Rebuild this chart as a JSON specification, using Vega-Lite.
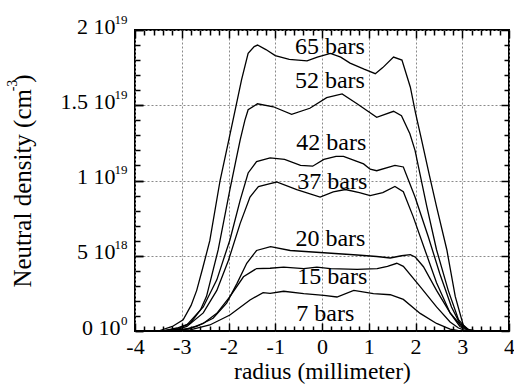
{
  "$schema": "https://vega.github.io/schema/vega-lite/v6.json",
  "width": 374,
  "height": 301,
  "autosize": {"type": "none"},
  "padding": {"left": 135, "top": 30, "right": 5, "bottom": 53},
  "background": "white",
  "config": {
    "view": {"stroke": "black", "strokeWidth": 2},
    "axis": {
      "domain": false,
      "labelFont": "Liberation Serif",
      "titleFont": "Liberation Serif",
      "labelColor": "black",
      "titleColor": "black",
      "tickColor": "black",
      "labelFontSize": 22,
      "titleFontSize": 23.5,
      "titleFontWeight": "normal",
      "tickWidth": 1.5,
      "labelFlush": false,
      "gridColor": "#8a8a8a",
      "gridDash": [2, 2],
      "gridWidth": 1,
      "gridOpacity": 1
    }
  },
  "datasets": {
    "curves": [
      {"p": "65 bars", "r": -3.5, "n": 0},
      {"p": "65 bars", "r": -3.2, "n": 0.3e18},
      {"p": "65 bars", "r": -2.97, "n": 0.75e18},
      {"p": "65 bars", "r": -2.8, "n": 1.7e18},
      {"p": "65 bars", "r": -2.68, "n": 2.7e18},
      {"p": "65 bars", "r": -2.55, "n": 4.2e18},
      {"p": "65 bars", "r": -2.4, "n": 6.0e18},
      {"p": "65 bars", "r": -2.18, "n": 10.0e18},
      {"p": "65 bars", "r": -2.0, "n": 12.6e18},
      {"p": "65 bars", "r": -1.85, "n": 14.8e18},
      {"p": "65 bars", "r": -1.72, "n": 16.7e18},
      {"p": "65 bars", "r": -1.58, "n": 18.45e18},
      {"p": "65 bars", "r": -1.45, "n": 18.9e18},
      {"p": "65 bars", "r": -1.38, "n": 19.0e18},
      {"p": "65 bars", "r": -1.2, "n": 18.7e18},
      {"p": "65 bars", "r": -1.0, "n": 18.3e18},
      {"p": "65 bars", "r": -0.7, "n": 18.05e18},
      {"p": "65 bars", "r": -0.32, "n": 17.95e18},
      {"p": "65 bars", "r": -0.1, "n": 18.2e18},
      {"p": "65 bars", "r": 0.18, "n": 18.45e18},
      {"p": "65 bars", "r": 0.4, "n": 18.2e18},
      {"p": "65 bars", "r": 0.6, "n": 17.8e18},
      {"p": "65 bars", "r": 0.9, "n": 17.4e18},
      {"p": "65 bars", "r": 1.14, "n": 17.1e18},
      {"p": "65 bars", "r": 1.3, "n": 17.5e18},
      {"p": "65 bars", "r": 1.53, "n": 18.2e18},
      {"p": "65 bars", "r": 1.71, "n": 18.0e18},
      {"p": "65 bars", "r": 1.89, "n": 16.2e18},
      {"p": "65 bars", "r": 2.0, "n": 14.5e18},
      {"p": "65 bars", "r": 2.13, "n": 12.7e18},
      {"p": "65 bars", "r": 2.3, "n": 10.3e18},
      {"p": "65 bars", "r": 2.45, "n": 8.26e18},
      {"p": "65 bars", "r": 2.67, "n": 5.4e18},
      {"p": "65 bars", "r": 2.85, "n": 2.3e18},
      {"p": "65 bars", "r": 3.02, "n": 0.4e18},
      {"p": "65 bars", "r": 3.15, "n": 0.05e18},
      {"p": "65 bars", "r": 3.3, "n": 0},

      {"p": "52 bars", "r": -3.4, "n": 0},
      {"p": "52 bars", "r": -3.1, "n": 0.2e18},
      {"p": "52 bars", "r": -2.82, "n": 0.5e18},
      {"p": "52 bars", "r": -2.6, "n": 1.4e18},
      {"p": "52 bars", "r": -2.47, "n": 2.3e18},
      {"p": "52 bars", "r": -2.22, "n": 5.4e18},
      {"p": "52 bars", "r": -1.97, "n": 9.4e18},
      {"p": "52 bars", "r": -1.85, "n": 11.2e18},
      {"p": "52 bars", "r": -1.75, "n": 12.7e18},
      {"p": "52 bars", "r": -1.65, "n": 14.0e18},
      {"p": "52 bars", "r": -1.58, "n": 14.7e18},
      {"p": "52 bars", "r": -1.38, "n": 15.1e18},
      {"p": "52 bars", "r": -1.04, "n": 14.9e18},
      {"p": "52 bars", "r": -0.65, "n": 14.4e18},
      {"p": "52 bars", "r": -0.26, "n": 14.8e18},
      {"p": "52 bars", "r": 0.1, "n": 15.5e18},
      {"p": "52 bars", "r": 0.43, "n": 15.75e18},
      {"p": "52 bars", "r": 0.75, "n": 15.1e18},
      {"p": "52 bars", "r": 1.17, "n": 14.2e18},
      {"p": "52 bars", "r": 1.53, "n": 14.6e18},
      {"p": "52 bars", "r": 1.7, "n": 14.3e18},
      {"p": "52 bars", "r": 1.88, "n": 13.1e18},
      {"p": "52 bars", "r": 1.99, "n": 12.0e18},
      {"p": "52 bars", "r": 2.24, "n": 8.3e18},
      {"p": "52 bars", "r": 2.45, "n": 5.4e18},
      {"p": "52 bars", "r": 2.7, "n": 2.7e18},
      {"p": "52 bars", "r": 2.92, "n": 0.75e18},
      {"p": "52 bars", "r": 3.1, "n": 0.1e18},
      {"p": "52 bars", "r": 3.3, "n": 0},

      {"p": "42 bars", "r": -3.4, "n": 0},
      {"p": "42 bars", "r": -3.1, "n": 0.15e18},
      {"p": "42 bars", "r": -2.89, "n": 0.4e18},
      {"p": "42 bars", "r": -2.54, "n": 1.6e18},
      {"p": "42 bars", "r": -2.25, "n": 3.4e18},
      {"p": "42 bars", "r": -1.97, "n": 6.05e18},
      {"p": "42 bars", "r": -1.75, "n": 8.7e18},
      {"p": "42 bars", "r": -1.58, "n": 10.5e18},
      {"p": "42 bars", "r": -1.4, "n": 11.25e18},
      {"p": "42 bars", "r": -1.11, "n": 11.5e18},
      {"p": "42 bars", "r": -0.8, "n": 11.4e18},
      {"p": "42 bars", "r": -0.46, "n": 11.0e18},
      {"p": "42 bars", "r": -0.2, "n": 10.95e18},
      {"p": "42 bars", "r": 0.04, "n": 11.4e18},
      {"p": "42 bars", "r": 0.3, "n": 11.6e18},
      {"p": "42 bars", "r": 0.46, "n": 11.6e18},
      {"p": "42 bars", "r": 0.89, "n": 11.1e18},
      {"p": "42 bars", "r": 1.03, "n": 10.75e18},
      {"p": "42 bars", "r": 1.17, "n": 10.65e18},
      {"p": "42 bars", "r": 1.56, "n": 11.0e18},
      {"p": "42 bars", "r": 1.74, "n": 10.9e18},
      {"p": "42 bars", "r": 1.99, "n": 8.9e18},
      {"p": "42 bars", "r": 2.27, "n": 6.3e18},
      {"p": "42 bars", "r": 2.52, "n": 3.8e18},
      {"p": "42 bars", "r": 2.77, "n": 1.6e18},
      {"p": "42 bars", "r": 2.95, "n": 0.5e18},
      {"p": "42 bars", "r": 3.15, "n": 0.05e18},
      {"p": "42 bars", "r": 3.3, "n": 0},

      {"p": "37 bars", "r": -3.4, "n": 0},
      {"p": "37 bars", "r": -3.1, "n": 0.1e18},
      {"p": "37 bars", "r": -2.89, "n": 0.3e18},
      {"p": "37 bars", "r": -2.54, "n": 1.2e18},
      {"p": "37 bars", "r": -2.25, "n": 2.7e18},
      {"p": "37 bars", "r": -2.0, "n": 4.7e18},
      {"p": "37 bars", "r": -1.75, "n": 7.15e18},
      {"p": "37 bars", "r": -1.54, "n": 8.9e18},
      {"p": "37 bars", "r": -1.36, "n": 9.6e18},
      {"p": "37 bars", "r": -1.11, "n": 9.8e18},
      {"p": "37 bars", "r": -0.97, "n": 9.9e18},
      {"p": "37 bars", "r": -0.54, "n": 9.4e18},
      {"p": "37 bars", "r": -0.04, "n": 8.9e18},
      {"p": "37 bars", "r": 0.24, "n": 9.25e18},
      {"p": "37 bars", "r": 0.5, "n": 9.4e18},
      {"p": "37 bars", "r": 0.8, "n": 9.2e18},
      {"p": "37 bars", "r": 1.03, "n": 9.0e18},
      {"p": "37 bars", "r": 1.3, "n": 9.2e18},
      {"p": "37 bars", "r": 1.56, "n": 9.6e18},
      {"p": "37 bars", "r": 1.74, "n": 9.25e18},
      {"p": "37 bars", "r": 1.95, "n": 7.6e18},
      {"p": "37 bars", "r": 2.2, "n": 5.4e18},
      {"p": "37 bars", "r": 2.45, "n": 3.2e18},
      {"p": "37 bars", "r": 2.74, "n": 1.2e18},
      {"p": "37 bars", "r": 2.99, "n": 0.3e18},
      {"p": "37 bars", "r": 3.2, "n": 0},

      {"p": "20 bars", "r": -3.3, "n": 0},
      {"p": "20 bars", "r": -2.95, "n": 0.1e18},
      {"p": "20 bars", "r": -2.68, "n": 0.3e18},
      {"p": "20 bars", "r": -2.33, "n": 0.85e18},
      {"p": "20 bars", "r": -2.04, "n": 1.85e18},
      {"p": "20 bars", "r": -1.82, "n": 3.15e18},
      {"p": "20 bars", "r": -1.61, "n": 4.5e18},
      {"p": "20 bars", "r": -1.4, "n": 5.35e18},
      {"p": "20 bars", "r": -1.1, "n": 5.6e18},
      {"p": "20 bars", "r": -0.68, "n": 5.35e18},
      {"p": "20 bars", "r": 0.04, "n": 5.2e18},
      {"p": "20 bars", "r": 0.75, "n": 5.05e18},
      {"p": "20 bars", "r": 1.17, "n": 4.95e18},
      {"p": "20 bars", "r": 1.46, "n": 4.85e18},
      {"p": "20 bars", "r": 1.7, "n": 5.0e18},
      {"p": "20 bars", "r": 1.89, "n": 5.07e18},
      {"p": "20 bars", "r": 2.0, "n": 4.9e18},
      {"p": "20 bars", "r": 2.17, "n": 4.27e18},
      {"p": "20 bars", "r": 2.45, "n": 2.7e18},
      {"p": "20 bars", "r": 2.74, "n": 1.2e18},
      {"p": "20 bars", "r": 2.95, "n": 0.3e18},
      {"p": "20 bars", "r": 3.15, "n": 0},

      {"p": "15 bars", "r": -3.3, "n": 0},
      {"p": "15 bars", "r": -2.85, "n": 0.15e18},
      {"p": "15 bars", "r": -2.54, "n": 0.5e18},
      {"p": "15 bars", "r": -2.25, "n": 1.17e18},
      {"p": "15 bars", "r": -1.97, "n": 2.28e18},
      {"p": "15 bars", "r": -1.68, "n": 3.6e18},
      {"p": "15 bars", "r": -1.4, "n": 4.15e18},
      {"p": "15 bars", "r": -1.11, "n": 4.17e18},
      {"p": "15 bars", "r": -0.82, "n": 4.25e18},
      {"p": "15 bars", "r": -0.39, "n": 4.14e18},
      {"p": "15 bars", "r": -0.11, "n": 4.25e18},
      {"p": "15 bars", "r": 0.18, "n": 4.14e18},
      {"p": "15 bars", "r": 0.75, "n": 4.1e18},
      {"p": "15 bars", "r": 1.18, "n": 4.14e18},
      {"p": "15 bars", "r": 1.4, "n": 4.3e18},
      {"p": "15 bars", "r": 1.6, "n": 4.5e18},
      {"p": "15 bars", "r": 1.74, "n": 4.3e18},
      {"p": "15 bars", "r": 2.1, "n": 2.95e18},
      {"p": "15 bars", "r": 2.45, "n": 1.6e18},
      {"p": "15 bars", "r": 2.74, "n": 0.6e18},
      {"p": "15 bars", "r": 2.92, "n": 0.2e18},
      {"p": "15 bars", "r": 3.1, "n": 0},

      {"p": "7 bars", "r": -3.2, "n": 0},
      {"p": "7 bars", "r": -2.82, "n": 0.07e18},
      {"p": "7 bars", "r": -2.4, "n": 0.4e18},
      {"p": "7 bars", "r": -1.97, "n": 1.06e18},
      {"p": "7 bars", "r": -1.54, "n": 2.06e18},
      {"p": "7 bars", "r": -1.26, "n": 2.55e18},
      {"p": "7 bars", "r": -1.11, "n": 2.5e18},
      {"p": "7 bars", "r": -0.82, "n": 2.64e18},
      {"p": "7 bars", "r": -0.39, "n": 2.48e18},
      {"p": "7 bars", "r": 0.04, "n": 2.37e18},
      {"p": "7 bars", "r": 0.32, "n": 2.26e18},
      {"p": "7 bars", "r": 0.68, "n": 2.7e18},
      {"p": "7 bars", "r": 1.1, "n": 2.48e18},
      {"p": "7 bars", "r": 1.46, "n": 2.41e18},
      {"p": "7 bars", "r": 1.74, "n": 2.1e18},
      {"p": "7 bars", "r": 2.1, "n": 1.17e18},
      {"p": "7 bars", "r": 2.45, "n": 0.5e18},
      {"p": "7 bars", "r": 2.74, "n": 0.13e18},
      {"p": "7 bars", "r": 2.95, "n": 0}
    ],
    "labels": [
      {"p": "65 bars", "r": 0.17, "n": 18.9e18},
      {"p": "52 bars", "r": 0.17, "n": 16.6e18},
      {"p": "42 bars", "r": 0.2, "n": 12.5e18},
      {"p": "37 bars", "r": 0.22, "n": 9.9e18},
      {"p": "20 bars", "r": 0.18, "n": 6.13e18},
      {"p": "15 bars", "r": 0.22, "n": 3.6e18},
      {"p": "7 bars", "r": 0.07, "n": 1.15e18}
    ]
  },
  "layer": [
    {
      "data": {"name": "curves"},
      "mark": {"type": "line", "color": "black", "strokeWidth": 1.3},
      "encoding": {
        "x": {
          "field": "r", "type": "quantitative",
          "scale": {"domain": [-4, 4], "nice": false, "zero": false},
          "axis": {
            "orient": "bottom",
            "values": [-4, -3, -2, -1, 0, 1, 2, 3, 4],
            "labelExpr": "'' + datum.value",
            "tickSize": -8,
            "labelPadding": 13,
            "grid": true,
            "title": "radius (millimeter)",
            "titlePadding": 2
          }
        },
        "y": {
          "field": "n", "type": "quantitative",
          "scale": {"domain": [0, 2e19], "nice": false, "zero": true},
          "axis": {
            "orient": "left",
            "values": [5e18, 1e19, 1.5e19, 2e19],
            "labelExpr": "datum.value < 7e18 ? '5 10' : datum.value < 1.2e19 ? '1 10' : datum.value < 1.7e19 ? '1.5 10' : '2 10'",
            "tickSize": -8,
            "labelPadding": 28,
            "labelOffset": -4,
            "grid": true,
            "title": "Neutral density (cm  )",
            "titleFontSize": 25,
            "titleBaseline": "alphabetic",
            "titleX": -105
          }
        },
        "detail": {"field": "p"}
      }
    },
    {
      "data": {"name": "labels"},
      "mark": {"type": "text", "font": "Liberation Serif", "fontSize": 24, "color": "black", "align": "center", "baseline": "middle"},
      "encoding": {
        "x": {"field": "r", "type": "quantitative", "axis": null},
        "y": {"field": "n", "type": "quantitative", "axis": null},
        "text": {"field": "p"}
      }
    },
    {
      "data": {"name": "curves"},
      "mark": {"type": "point", "opacity": 0},
      "encoding": {
        "x": {
          "field": "r", "type": "quantitative",
          "axis": {"orient": "bottom", "values": [-3.8, -3.6, -3.4, -3.2, -2.8, -2.6, -2.4, -2.2, -1.8, -1.6, -1.4, -1.2, -0.8, -0.6, -0.4, -0.2, 0.2, 0.4, 0.6, 0.8, 1.2, 1.4, 1.6, 1.8, 2.2, 2.4, 2.6, 2.8, 3.2, 3.4, 3.6, 3.8], "labels": false, "grid": false, "tickSize": -5, "title": null}
        },
        "y": {
          "field": "n", "type": "quantitative",
          "axis": {"orient": "left", "values": [1e18, 2e18, 3e18, 4e18, 6e18, 7e18, 8e18, 9e18, 1.1e19, 1.2e19, 1.3e19, 1.4e19, 1.6e19, 1.7e19, 1.8e19, 1.9e19], "labels": false, "grid": false, "tickSize": -5, "title": null}
        }
      }
    },
    {
      "data": {"name": "curves"},
      "mark": {"type": "point", "opacity": 0},
      "encoding": {
        "x": {
          "field": "r", "type": "quantitative",
          "axis": {"orient": "top", "values": [-4, -3, -2, -1, 0, 1, 2, 3, 4], "labels": false, "grid": false, "tickSize": -8, "title": null}
        },
        "y": {
          "field": "n", "type": "quantitative",
          "axis": {"orient": "right", "values": [0, 5e18, 1e19, 1.5e19, 2e19], "labels": false, "grid": false, "tickSize": -8, "title": null}
        }
      }
    },
    {
      "data": {"name": "curves"},
      "mark": {"type": "point", "opacity": 0},
      "encoding": {
        "x": {
          "field": "r", "type": "quantitative",
          "axis": {"orient": "top", "values": [-3.8, -3.6, -3.4, -3.2, -2.8, -2.6, -2.4, -2.2, -1.8, -1.6, -1.4, -1.2, -0.8, -0.6, -0.4, -0.2, 0.2, 0.4, 0.6, 0.8, 1.2, 1.4, 1.6, 1.8, 2.2, 2.4, 2.6, 2.8, 3.2, 3.4, 3.6, 3.8], "labels": false, "grid": false, "tickSize": -5, "title": null}
        },
        "y": {
          "field": "n", "type": "quantitative",
          "axis": {"orient": "right", "values": [1e18, 2e18, 3e18, 4e18, 6e18, 7e18, 8e18, 9e18, 1.1e19, 1.2e19, 1.3e19, 1.4e19, 1.6e19, 1.7e19, 1.8e19, 1.9e19], "labels": false, "grid": false, "tickSize": -5, "title": null}
        }
      }
    },
    {
      "data": {"name": "curves"},
      "mark": {"type": "point", "opacity": 0},
      "encoding": {
        "x": {"field": "r", "type": "quantitative", "axis": null},
        "y": {
          "field": "n", "type": "quantitative",
          "axis": {"orient": "left", "values": [0], "labelExpr": "'0 10'", "grid": false, "tickSize": -8, "labelPadding": 23, "labelOffset": -4, "title": null}
        }
      }
    },
    {
      "data": {"name": "curves"},
      "mark": {"type": "point", "opacity": 0},
      "encoding": {
        "x": {"field": "r", "type": "quantitative", "axis": null},
        "y": {
          "field": "n", "type": "quantitative",
          "axis": {
            "orient": "left",
            "values": [0, 5e18, 1e19, 1.5e19, 2e19],
            "labelExpr": "datum.value < 1e18 ? '0' : datum.value < 7e18 ? '18' : '19'",
            "labelFontSize": 13,
            "grid": false,
            "tickSize": -8,
            "labelPadding": 16,
            "labelOffset": -11,
            "title": "-3",
            "titleFontSize": 14,
            "titleBaseline": "alphabetic",
            "titleX": -119,
            "titleY": 55
          }
        }
      }
    }
  ],
  "resolve": {"axis": {"x": "independent", "y": "independent"}}
}
